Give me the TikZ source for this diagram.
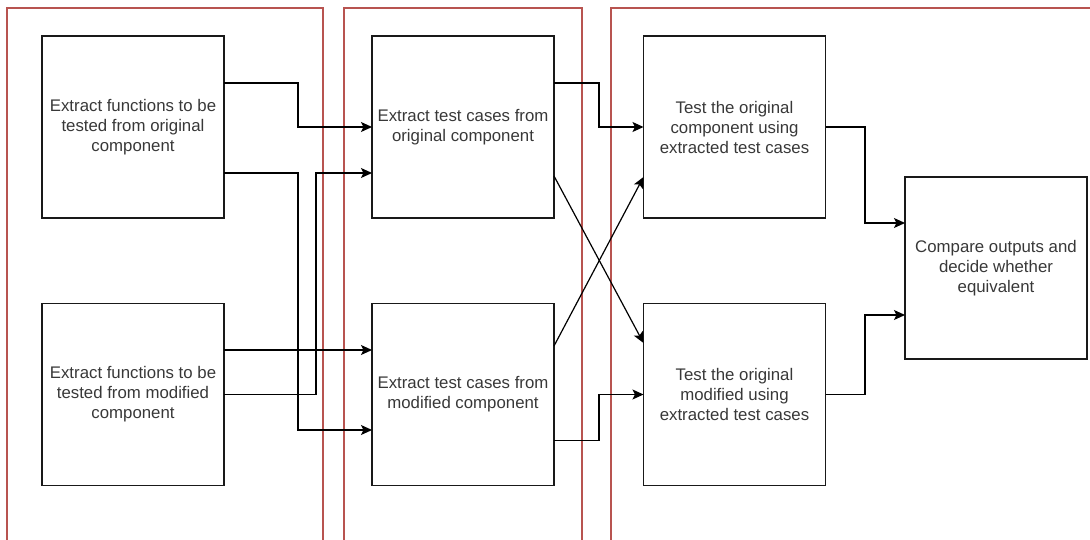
\documentclass[tikz,border=0pt]{standalone}
\usepackage{fontspec}
\setmainfont{Liberation Sans}
\usetikzlibrary{arrows.meta}
\definecolor{framered}{HTML}{B85450}
\definecolor{txt}{HTML}{383838}
\begin{document}
\begin{tikzpicture}[x=1pt,y=-1pt,
  box/.style={draw=black!90,line width=1.2pt,minimum width=182pt,minimum height=182pt,
    inner sep=0pt,outer sep=0pt,align=center,text=txt,
    font=\fontsize{16.8}{20}\selectfont},
  arr/.style={draw=black,line width=1.2pt,-{Stealth[length=11pt,width=10pt,inset=2.5pt]}},
  frame/.style={draw=framered,line width=1.5pt}]
\useasboundingbox (0,0) rectangle (1090,540);
% frames
\draw[frame] (7,541) -- (7,8) -- (323,8) -- (323,541);
\draw[frame] (344,541) -- (344,8) -- (582,8) -- (582,541);
\draw[frame] (611,541) -- (611,8) -- (1091,8);
% boxes
\node[box] (A) at (133,127) {Extract functions to be\\tested from original\\component};
\node[box] (B) at (133,394.5) {Extract functions to be\\tested from modified\\component};
\node[box] (C) at (463,127) {Extract test cases from\\original component};
\node[box] (D) at (463,394.5) {Extract test cases from\\modified component};
\node[box] (E) at (734.5,127) {Test the original\\component using\\extracted test cases};
\node[box] (F) at (734.5,394.5) {Test the original\\modified using\\extracted test cases};
\node[box] (G) at (996,268) {Compare outputs and\\decide whether\\equivalent};
% connectors
\draw[arr] ([yshift=44pt]A.east) -- ++(74,0) |- (C.west);
\draw[arr] ([yshift=-46pt]A.east) -- ++(74,0) |- ([yshift=-35.5pt]D.west);
\draw[arr] (B.east) -- ++(92,0) |- ([yshift=-46pt]C.west);
\draw[arr] ([yshift=44.5pt]B.east) -- ([yshift=44.5pt]D.west);
\draw[arr] ([yshift=44pt]C.east) -- ++(45,0) |- (E.west);
\draw[arr] ([yshift=-49pt]C.east) -- ([yshift=51.5pt]F.west);
\draw[arr] ([yshift=48.5pt]D.east) -- ([yshift=-50pt]E.west);
\draw[arr] ([yshift=-46pt]D.east) -- ++(45,0) |- (F.west);
\draw[arr] (E.east) -- ++(39.5,0) |- ([yshift=45pt]G.west);
\draw[arr] (F.east) -- ++(39.5,0) |- ([yshift=-47pt]G.west);
\end{tikzpicture}
\end{document}
